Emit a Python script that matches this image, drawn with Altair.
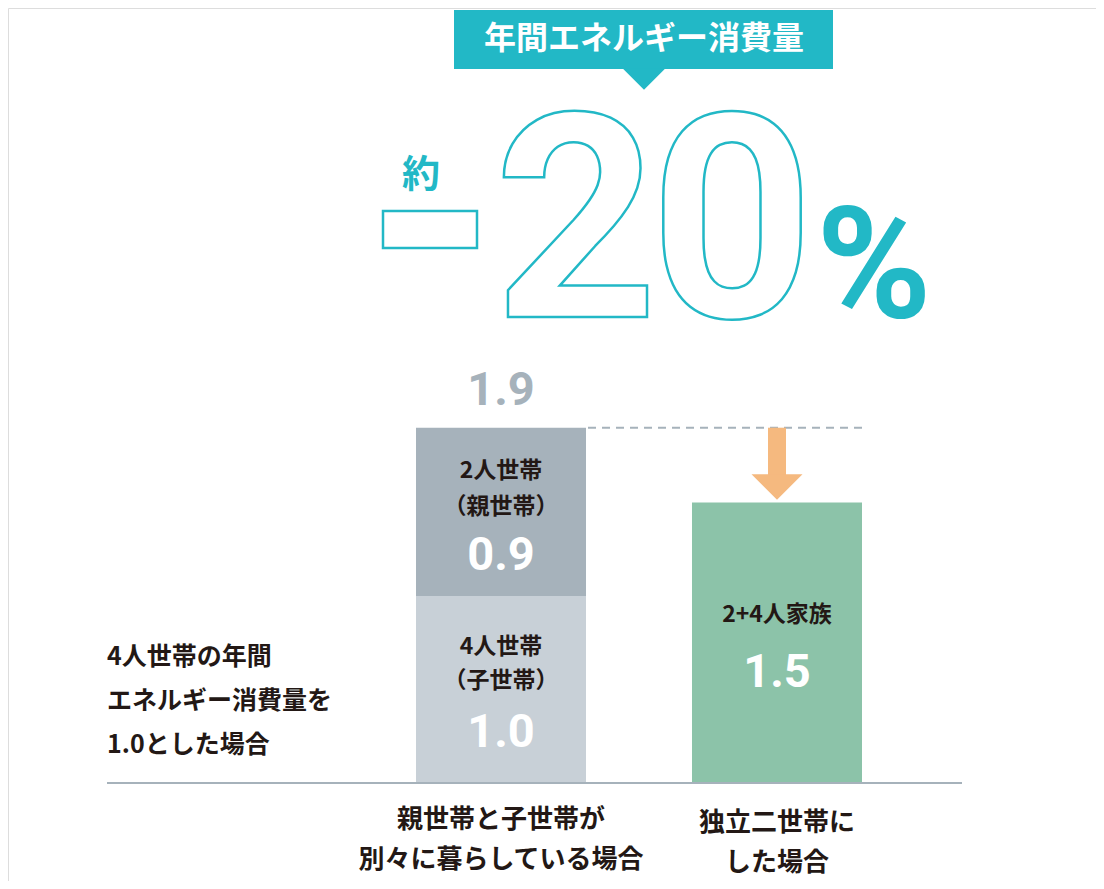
import altair as alt
import pandas as pd

# ---------------- data ----------------
categories = ["親世帯と子世帯が\n別々に暮らしている場合", "独立二世帯に\nした場合"]
segments = ["4人世帯\n（子世帯）", "2人世帯\n（親世帯）", "2+4人家族"]
segment_category = [categories[0], categories[0], categories[1]]
values = [1.0, 0.9, 1.5]
value_labels = ["1.0", "0.9", "1.5"]
stack_order = [0, 1, 0]
total_left_label = "1.9"
total_left = 1.9
note_text = "4人世帯の年間\nエネルギー消費量を\n1.0とした場合"
header_text = "年間エネルギー消費量"
approx_text = "約"
reduction_digits = ["2", "0"]
percent_text = "%"

# ---------------- styles ----------------
TEAL = "#22b8c6"
DARK = "#231815"
GRAY = "#a6b2bb"
seg_colors = ["#c8d0d7", "#a6b2bb", "#8cc3a9"]
ORANGE = "#f5b97f"
JP = "Noto Sans CJK JP"
NUM = "Roboto"

W, H = 1088, 873
xscale = alt.Scale(domain=categories, range=[408, 854], paddingInner=0.384, paddingOuter=0)
yscale = alt.Scale(domain=[-(H - 775) / 187.0, 775 / 187.0], nice=False, zero=False)
xenc = alt.X("cat:N", scale=xscale, axis=None)

one = pd.DataFrame({"a": [0]})

bars_df = pd.DataFrame({"cat": segment_category, "seg": segments, "value": values,
                        "order": stack_order, "vlabel": value_labels})

bars = alt.Chart(bars_df).mark_bar().encode(
    x=xenc,
    y=alt.Y("value:Q", stack="zero", scale=yscale, axis=None),
    color=alt.Color("seg:N", scale=alt.Scale(domain=segments, range=seg_colors), legend=None),
    order=alt.Order("order:Q"),
)

baseline = alt.Chart(one).mark_rule(stroke=GRAY, strokeWidth=2).encode(
    x=alt.value(99), x2=alt.value(954), y=alt.Y(datum=0, scale=yscale, axis=None)
)

dashed = alt.Chart(one).mark_rule(stroke=GRAY, strokeWidth=2, strokeDash=[8, 6]).encode(
    x=alt.value(580), x2=alt.value(854), y=alt.Y(datum=total_left, scale=yscale, axis=None)
)

shaft = alt.Chart(one).mark_rect(color=ORANGE).encode(
    x=alt.value(760), x2=alt.value(778),
    y=alt.Y(datum=total_left, scale=yscale, axis=None), y2=alt.value(468)
)
head = alt.Chart(one).mark_point(
    shape="M-1,-0.5L1,-0.5L0,0.5Z", filled=True, color=ORANGE, opacity=1, size=2601
).encode(x=alt.value(769), y=alt.value(479))


def txt(text, x, y, size, color=DARK, font=JP, weight="bold", align="center",
        baseline="middle", line_height=None, **kw):
    props = dict(text=text, font=font, fontSize=size, fontWeight=weight, color=color,
                 align=align, baseline=baseline, **kw)
    if line_height is not None:
        props["lineBreak"] = "\n"
        props["lineHeight"] = line_height
    return alt.Chart(one).mark_text(**props).encode(x=x, y=alt.value(y))


def cat_x(i):
    return alt.X(datum=categories[i], scale=xscale, axis=None, type="nominal")


layers = [bars, baseline, dashed, shaft, head]

# labels inside bars (y = first line)
layers.append(txt(segments[1], cat_x(0), 463, 23, line_height=36))
layers.append(txt(value_labels[1], cat_x(0), 548, 47, color="white", font=NUM))
layers.append(txt(segments[0], cat_x(0), 639, 23, line_height=34))
layers.append(txt(value_labels[0], cat_x(0), 725, 47, color="white", font=NUM))
layers.append(txt(segments[2], cat_x(1), 607, 23))
layers.append(txt(value_labels[2], cat_x(1), 665, 47, color="white", font=NUM))
layers.append(txt(total_left_label, cat_x(0), 383, 47, color=GRAY, font=NUM))

# category labels under axis
layers.append(txt(categories[0], cat_x(0), 812, 26, line_height=40))
layers.append(txt(categories[1], cat_x(1), 815, 26, line_height=40))

# left note
layers.append(txt(note_text, alt.value(99), 649, 25, align="left", line_height=44))

# header
header_box = alt.Chart(one).mark_rect(color=TEAL).encode(
    x=alt.value(446), x2=alt.value(825), y=alt.value(2), y2=alt.value(61)
)
pointer = alt.Chart(one).mark_point(
    shape="M-1,-0.5L1,-0.5L0,0.5Z", filled=True, color=TEAL, opacity=1, size=1849
).encode(x=alt.value(636), y=alt.value(71))
layers += [header_box, pointer]
layers.append(txt(header_text, alt.value(636), 31, 32, color="white"))

layers.append(txt(approx_text, alt.value(413), 168, 38, color=TEAL))
minus_box = alt.Chart(one).mark_rect(fill="white", stroke=TEAL, strokeWidth=2.5).encode(
    x=alt.value(375), x2=alt.value(469), y=alt.value(203), y2=alt.value(240)
)
layers.append(minus_box)
for d, cx in zip(reduction_digits, [568, 724]):
    layers.append(alt.Chart(one).mark_text(
        text=d, font=NUM, fontSize=286, fontWeight="bold", fill="white", stroke=TEAL,
        strokeWidth=2.5, align="center", baseline="alphabetic"
    ).encode(x=alt.value(cx), y=alt.value(309)))
layers.append(txt(percent_text, alt.value(866), 309, 156, color=TEAL, font=NUM,
                  baseline="alphabetic"))

chart = alt.layer(*layers).properties(
    width=W, height=H, autosize=alt.AutoSizeParams(type="none"), padding=0
).configure_view(stroke=None).configure(background="white")

chart.save("out.html", embed_options={"renderer": "svg", "actions": False})
